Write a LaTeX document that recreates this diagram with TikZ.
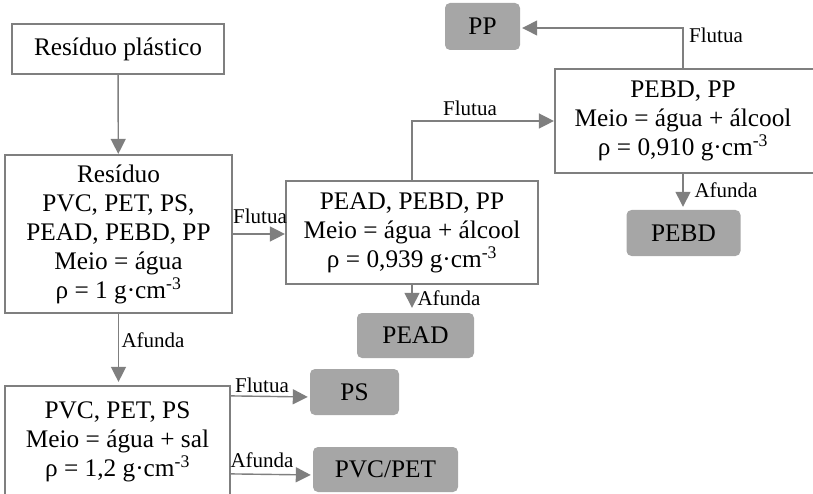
\documentclass[tikz,border=0pt]{standalone}
\usepackage{fontspec}
\setmainfont{Liberation Serif}
\usetikzlibrary{arrows.meta}
\definecolor{cinzaborda}{HTML}{7F7F7F}
\definecolor{cinzafundo}{HTML}{A6A6A6}
\begin{document}
\begin{tikzpicture}[x=1pt, y=-1pt,
    caixa/.style={draw=cinzaborda, line width=2.2pt, align=center, inner sep=0pt,
        font=\fontsize{25.3}{29}\selectfont},
    resultado/.style={fill=cinzafundo, rounded corners=5pt, inner sep=0pt,
        font=\fontsize{25.3}{29}\selectfont},
    seta/.style={draw=cinzaborda, line width=1.4pt, -{Triangle[length=15pt, width=15pt]}},
    rotulo/.style={inner sep=0pt, font=\fontsize{21}{24}\selectfont}]
        \useasboundingbox (0,0) rectangle (813,494);
        % starting box
        \node[caixa, minimum width=212pt, minimum height=50pt] (plastico) at (118,49) {Resíduo plástico};
        % first separation, in water
        \node[caixa, minimum width=227pt, minimum height=158pt] (residuo) at (118.5,234) {%
            Resíduo\\PVC, PET, PS,\\PEAD, PEBD, PP\\Meio = água\\ρ = 1 g·cm\textsuperscript{-3}%
        };
        % second separation, water and alcohol
        \node[caixa, minimum width=252pt, minimum height=103pt] (pead3) at (412,232.5) {%
            PEAD, PEBD, PP\\Meio = água + álcool\\ρ = 0,939 g·cm\textsuperscript{-3}%
        };
        % third separation, frame runs past the right edge
        \node[caixa, minimum width=290pt, minimum height=104pt] (pebd2) at (700,121) {};
        \node[caixa, draw=none] (pebd2txt) at (683,121) {%
            PEBD, PP\\Meio = água + álcool\\ρ = 0,910 g·cm\textsuperscript{-3}%
        };
        % salt water separation, frame runs past the bottom edge
        \node[caixa, minimum width=225pt, minimum height=112pt] (sal) at (117.5,442) {%
            PVC, PET, PS\\Meio = água + sal\\ρ = 1,2 g·cm\textsuperscript{-3}%
        };
        % separated plastics
        \node[resultado, minimum width=75pt, minimum height=47pt] (pp) at (482.5,26.5) {PP};
        \node[resultado, minimum width=114pt, minimum height=46pt] (pebd) at (683.5,233) {PEBD};
        \node[resultado, minimum width=117pt, minimum height=45pt] (pead) at (415.5,335.5) {PEAD};
        \node[resultado, minimum width=89pt, minimum height=46pt] (ps) at (354.5,392) {PS};
        \node[resultado, minimum width=145pt, minimum height=45pt] (pvcpet) at (385.5,469.5) {PVC/PET};
        % connectors
        \draw[seta] (plastico) -- (residuo);
        \draw[seta] (residuo.east) -- (residuo.east -| pead3.west);
        \draw[seta] (pead3.north) |- (pebd2.west);
        \draw[seta, shorten >=2pt] (pebd2txt |- pebd2.north) |- ([yshift=-1.5pt]pp.east);
        \draw[seta, shorten >=3pt] (pebd2txt |- pebd2.south) -- (pebd2txt |- pebd.north);
        \draw[seta, shorten >=5pt] (pead3.south) -- (pead3.south |- pead.north);
        \draw[seta, shorten >=3pt] (residuo.south) -- (residuo.south |- sal.north);
        \draw[seta, shorten >=2pt] ([yshift=-11pt]sal.north east) -- ([yshift=-5pt]ps.west);
        \draw[seta, shorten >=2pt] ([yshift=-89pt]sal.north east) -- ([yshift=-5.5pt]pvcpet.west);
        % connector labels
        \node[rotulo] (flutua1) at (260,216) {Flutua};
        \node[rotulo] (flutua2) at (470,108) {Flutua};
        \node[rotulo, anchor=west] (flutua3) at (689,35) {Flutua};
        \node[rotulo] (afunda3) at (726,190) {Afunda};
        \node[rotulo] (afunda2) at (449,298) {Afunda};
        \node[rotulo] (afunda1) at (153,340) {Afunda};
        \node[rotulo] (flutua4) at (262,385) {Flutua};
        \node[rotulo] (afunda4) at (262,460) {Afunda};
    \end{tikzpicture}
\end{document}
